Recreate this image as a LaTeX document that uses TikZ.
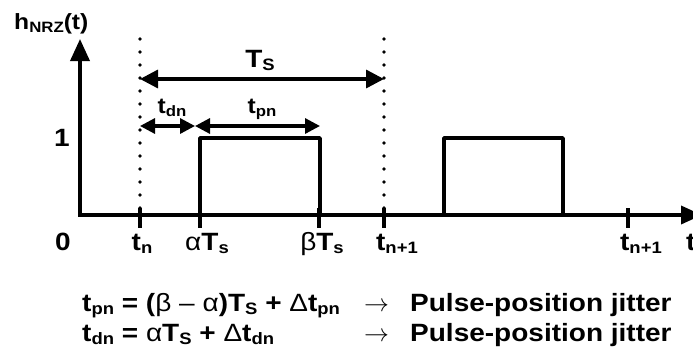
\documentclass[tikz,border=0pt]{standalone}
\usepackage{fontspec}
\setmainfont{Liberation Sans}[FakeStretch=1.12]
\usetikzlibrary{arrows.meta}
\newcommand\sbx[1]{\raisebox{-0.3ex}{\fontsize{16.5}{16.5}\selectfont #1}}
\newcommand\sbsm[1]{\raisebox{-0.3ex}{\fontsize{15}{15}\selectfont #1}}
\newcommand\gr[1]{{\mdseries #1}}
\begin{document}
\begin{tikzpicture}[x=1pt,y=-1pt,
  axisline/.style={line width=3.6pt, line join=miter,
    {Triangle[length=22pt,width=19pt]}-{Triangle[length=21pt,width=18pt]}},
  tickmark/.style={line width=3.4pt},
  dotline/.style={line width=3.8pt, line cap=round, dash pattern=on 0pt off 13pt},
  pulseline/.style={line width=3.4pt, line join=round},
  dimbig/.style={line width=3.4pt, {Triangle[length=18pt,width=18pt]}-{Triangle[length=18pt,width=18pt]}},
  dimsmall/.style={line width=3.2pt, {Triangle[length=15pt,width=15pt]}-{Triangle[length=15pt,width=15pt]}},
  lbl/.style={inner sep=0pt, font=\fontsize{25}{25}\selectfont\bfseries},
  lblsmall/.style={inner sep=0pt, font=\fontsize{22}{22}\selectfont\bfseries},
  eq/.style={inner sep=0pt, anchor=base west, font=\fontsize{25}{25}\selectfont\bfseries}]
\useasboundingbox (0,0) rectangle (693,354);
\clip (0,0) rectangle (693,354);

% key coordinates
\coordinate (ytop) at (80,39);
\coordinate (orig) at (80,215);
\coordinate (xend) at (702,215);
\coordinate (dtn) at (140,39);
\coordinate (dtn1) at (384,39);
\coordinate (tsl) at (140,79);
\coordinate (tsr) at (384,79);
\coordinate (dl) at (140,126);
\coordinate (dm) at (195,126);
\coordinate (dr) at (320,126);

% dotted lines
\draw[dotline] (dtn) -- (dtn |- orig);
\draw[dotline] (dtn1) -- (dtn1 |- orig);

% axes
\draw[axisline] (ytop) -- (orig) -- (xend);

% ticks
\foreach \x/\n in {140/tka,200/tkb,319/tkc,384/tkd,628/tke}{
  \coordinate (\n t) at (\x,208);
  \coordinate (\n b) at (\x,228);
  \draw[tickmark] (\n t) -- (\n b);
}

% pulses
\coordinate (p1a) at (200,215);
\coordinate (p1b) at (320,138);
\coordinate (p2a) at (444,215);
\coordinate (p2b) at (563,138);
\draw[pulseline] (p1a) -- (p1a |- p1b) -- (p1b) -- (p1b |- p1a);
\draw[pulseline] (p2a) -- (p2a |- p2b) -- (p2b) -- (p2b |- p2a);

% dimension arrows
\draw[dimbig] (tsl) -- (tsr);
\draw[dimsmall] (dl) -- (dm);
\draw[dimsmall] (dm) -- (dr);

% labels
\node[lblsmall, anchor=base west] (lh) at (14,29) {h\sbsm{NRZ}(t)};
\node[lbl, anchor=base] (l1) at (62,146) {1};
\node[lbl, anchor=base] (l0) at (63,250) {0};
\node[lbl, anchor=base] (ltn) at (142,250) {t\sbx{n}};
\node[lbl, anchor=base] (lat) at (207,250) {\gr{α}T\sbx{s}};
\node[lbl, anchor=base] (lbt) at (322,250) {\gr{β}T\sbx{s}};
\node[lbl, anchor=base] (ltn1) at (397,250) {t\sbx{n+1}};
\node[lbl, anchor=base] (ltn2) at (641,250) {t\sbx{n+1}};
\node[lbl, anchor=base west] (lt) at (686,250) {t};
\node[lbl, anchor=base] (lts) at (260,67) {T\sbx{S}};
\node[lblsmall, anchor=base] (ltdn) at (172,113) {t\sbsm{dn}};
\node[lblsmall, anchor=base] (ltpn) at (262,113) {t\sbsm{pn}};

% equations
\node[eq] (eq1) at (82,311) {t\sbx{pn} = (\gr{β – α})T\sbx{S} + \gr{Δ}t\sbx{pn}};
\node[eq] (ar1) at (364,311) {\mdseries$\rightarrow$};
\node[eq] (tx1) at (410,311) {Pulse-position jitter};
\node[eq] (eq2) at (82,341) {t\sbx{dn} = \gr{α}T\sbx{S} + \gr{Δ}t\sbx{dn}};
\node[eq] (ar2) at (364,341) {\mdseries$\rightarrow$};
\node[eq] (tx2) at (410,341) {Pulse-position jitter};
\end{tikzpicture}
\end{document}
